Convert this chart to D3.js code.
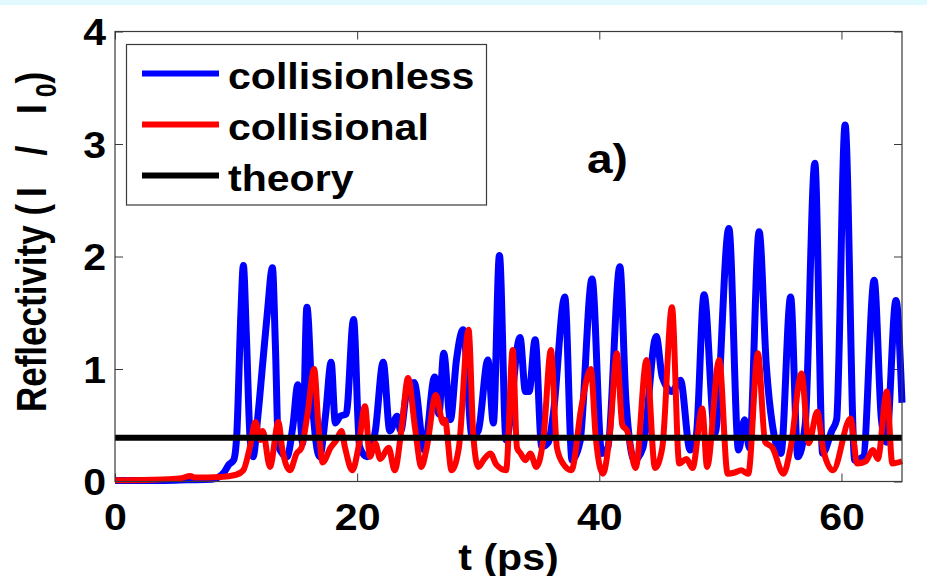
<!DOCTYPE html>
<html>
<head>
  <meta charset="utf-8">
  <title>Reflectivity vs time</title>
  <script src="https://d3js.org/d3.v7.min.js"></script>
  <style>
    body { margin: 0; background: #fff; }
    text { font-family: "Liberation Sans", Arial, Helvetica, sans-serif; font-weight: bold; fill: #000; }
  </style>
</head>
<body>
  <div id="chart"></div>

  <script>
    // data: [t (ps), I / I0]
    var collisionless = [
      [0,0.01],[4,0.01],[6,0.015],[8,0.02],[9,0.08],[9.4,0.15],[9.8,0.19],[10.05,0.4],[10.4,1.5],[10.6,1.92],
      [10.85,1.3],[11.15,0.4],[11.4,0.22],[11.8,0.58],[12.2,1.05],[12.6,1.52],[13.0,1.9],[13.25,1.2],[13.5,0.31],
      [14.2,0.22],[14.7,0.5],[15.1,0.86],[15.5,0.34],[15.85,1.55],[16.3,0.7],[16.9,0.22],[17.4,0.6],[17.85,1.06],
      [18.2,0.52],[18.6,0.58],[19.1,0.6],[19.7,1.44],[20.2,0.31],[20.8,0.22],[21.5,0.45],[22.15,1.06],[22.7,0.45],
      [23.3,0.58],[23.6,0.45],[24.1,0.8],[24.7,0.88],[25.55,0.28],[26.4,0.93],[26.75,0.6],[27.15,1.14],[27.7,0.55],
      [28.2,1.08],[28.75,1.35],[29.5,0.4],[30.0,0.45],[30.8,1.08],[31.25,0.52],[31.75,2.01],[32.3,0.37],[33.45,1.28],
      [33.9,0.8],[34.2,0.8],[34.7,1.26],[35.25,0.31],[35.8,0.35],[36.2,0.6],[37.15,1.64],[37.75,0.19],[38.4,0.35],
      [39.4,1.8],[40.2,0.25],[40.7,0.3],[41.7,1.91],[42.2,0.72],[42.9,0.19],[43.6,0.3],[44.7,1.29],[45.2,0.93],
      [46.0,0.8],[46.7,0.9],[47.5,0.28],[48.0,0.4],[48.65,1.66],[49.55,0.43],[50.7,2.25],[51.5,0.28],[52.0,0.55],
      [52.4,0.3],[53.2,2.22],[53.8,1.02],[54.3,0.5],[55.0,0.25],[55.8,1.64],[56.4,0.22],[57.0,0.5],[57.8,2.83],
      [58.45,0.25],[59.2,0.45],[59.6,0.55],[60.3,3.17],[61.1,0.19],[61.8,0.22],[62.7,1.79],[63.3,0.55],[63.7,0.35],
      [64.5,1.61],[65,0.7]
    ];

    var collisional = [
      [0,0.01],[3,0.015],[5.5,0.03],[6.2,0.05],[6.6,0.035],[8.7,0.04],[10.0,0.06],[10.6,0.1],[11.15,0.31],[11.6,0.53],
      [12.0,0.37],[12.2,0.45],[12.8,0.13],[13.5,0.53],[13.8,0.3],[14.45,0.1],[15.0,0.25],[15.4,0.3],[15.9,0.6],
      [16.45,1.0],[16.8,0.5],[17.15,0.17],[17.8,0.3],[18.3,0.37],[18.7,0.45],[19.0,0.3],[19.6,0.1],[20.1,0.3],
      [20.65,0.67],[21.05,0.22],[21.5,0.34],[21.9,0.2],[22.6,0.3],[23.1,0.1],[23.7,0.5],[24.2,0.92],[24.8,0.46],
      [25.3,0.13],[25.75,0.3],[26.5,0.77],[27.1,0.52],[27.25,0.55],[27.8,0.1],[28.4,0.3],[29.2,1.35],[29.6,0.4],
      [30.0,0.13],[30.5,0.2],[31.0,0.25],[31.5,0.15],[32.3,0.1],[32.85,1.17],[33.2,0.3],[33.5,0.25],[33.9,0.19],
      [34.3,0.25],[34.8,0.13],[35.4,0.4],[36.0,1.17],[36.5,0.3],[37.0,0.16],[37.7,0.1],[38.5,0.65],[39.3,1.0],
      [39.7,0.4],[40.3,0.07],[40.9,0.46],[41.45,1.14],[41.9,0.5],[42.3,0.45],[43.0,0.12],[43.9,1.08],[44.6,0.12],
      [45.2,0.3],[46.0,1.55],[46.6,0.16],[47.2,0.2],[47.7,0.12],[48.5,0.65],[48.9,0.13],[49.9,1.08],[50.6,0.07],
      [51.2,0.08],[51.7,0.1],[52.3,0.07],[53.1,1.14],[53.7,0.35],[54.3,0.3],[55.2,0.07],[55.8,0.3],[56.7,0.96],
      [57.3,0.34],[58.0,0.62],[58.5,0.28],[59.3,0.1],[60.75,0.56],[61.3,0.16],[62.0,0.18],[62.6,0.28],[63.0,0.2],
      [63.75,0.8],[64.2,0.16],[65,0.18]
    ];

    var theoryLevel = 0.39;

    var seriesNames = ["collisionless", "collisional", "theory"];
    var seriesColors = ["#0000ff", "#ff0000", "#000000"];
    var xTicks = [0, 20, 40, 60];
    var yTicks = [0, 1, 2, 3, 4];

    var W = 927, H = 576;
    var plotLeft = 115, plotRight = 902, plotTop = 31.5, plotBottom = 481.5;
    var sx = 1.11; // glyphs in the figure are a bit wider than tall

    var svg = d3.select("#chart").append("svg")
      .attr("width", W)
      .attr("height", H);

    // thin cyan strip along the top edge
    svg.append("rect").attr("x", 0).attr("y", 0).attr("width", W).attr("height", 5).attr("fill", "#e0f9fc");

    var x = d3.scaleLinear().domain([0, 65]).range([plotLeft, plotRight]);
    var y = d3.scaleLinear().domain([0, 4]).range([plotBottom, plotTop]);

    var axisColor = "#3a3a3a";

    function styleAxis(g) {
      g.select(".domain").remove();
      g.selectAll(".tick line").attr("stroke", axisColor).attr("stroke-width", 1);
    }

    svg.append("g")
      .attr("transform", "translate(0," + plotBottom + ")")
      .call(d3.axisBottom(x).tickValues(xTicks).tickSizeInner(-8).tickSizeOuter(0).tickPadding(22))
      .call(styleAxis)
      .selectAll("text")
      .attr("font-size", 37)
      .attr("transform", "scale(" + sx + ",1)");

    svg.append("g")
      .attr("transform", "translate(" + plotLeft + ",0)")
      .call(d3.axisLeft(y).tickValues(yTicks).tickFormat(d3.format("d")).tickSizeInner(-8).tickSizeOuter(0).tickPadding(8))
      .call(styleAxis)
      .selectAll("text")
      .attr("font-size", 37)
      .attr("dy", "0.36em")
      .attr("transform", "scale(" + sx + ",1)");

    svg.append("g")
      .attr("transform", "translate(0," + plotTop + ")")
      .call(d3.axisTop(x).tickValues(xTicks).tickFormat("").tickSizeInner(-8).tickSizeOuter(0))
      .call(styleAxis);

    svg.append("g")
      .attr("transform", "translate(" + plotRight + ",0)")
      .call(d3.axisRight(y).tickValues(yTicks).tickFormat("").tickSizeInner(-8).tickSizeOuter(0))
      .call(styleAxis);

    var line = d3.line()
      .x(function(d) { return x(d[0]); })
      .y(function(d) { return y(d[1]); })
      .curve(d3.curveMonotoneX);

    svg.append("path").datum(collisionless)
      .attr("d", line).attr("fill", "none")
      .attr("stroke", seriesColors[0]).attr("stroke-width", 7).attr("stroke-linejoin", "round");

    svg.append("path").datum(collisional)
      .attr("d", line).attr("fill", "none")
      .attr("stroke", seriesColors[1]).attr("stroke-width", 6).attr("stroke-linejoin", "round");

    svg.append("path").datum([[0, theoryLevel], [65, theoryLevel]])
      .attr("d", line).attr("fill", "none")
      .attr("stroke", seriesColors[2]).attr("stroke-width", 6);

    // axes frame
    svg.append("rect")
      .attr("x", plotLeft).attr("y", plotTop)
      .attr("width", plotRight - plotLeft).attr("height", plotBottom - plotTop)
      .attr("fill", "none").attr("stroke", axisColor).attr("stroke-width", 1.2);

    // legend
    var legend = svg.append("g");
    legend.append("rect")
      .attr("x", 126.5).attr("y", 44.5).attr("width", 360).attr("height", 160.5)
      .attr("fill", "#fff").attr("stroke", axisColor).attr("stroke-width", 1.2);

    seriesNames.forEach(function(name, i) {
      var ly = 73.5 + i * 51;
      legend.append("line")
        .attr("x1", 142).attr("x2", 219).attr("y1", ly).attr("y2", ly)
        .attr("stroke", seriesColors[i]).attr("stroke-width", 6);
      legend.append("text")
        .attr("transform", "translate(228," + (ly + 15) + ") scale(" + sx + ",1)")
        .attr("font-size", 37)
        .text(name);
    });

    // panel tag
    svg.append("text")
      .attr("transform", "translate(587,173) scale(1.15,1)")
      .attr("font-size", 40)
      .text("a)");

    // axis titles
    svg.append("text")
      .attr("transform", "translate(" + ((plotLeft + plotRight) / 2) + ",570) scale(" + sx + ",1)")
      .attr("text-anchor", "middle")
      .attr("font-size", 37)
      .text("t (ps)");

    var ylab = svg.append("text")
      .attr("transform", "translate(46,412) scale(1.2,1) rotate(-90)")
      .attr("text-anchor", "start")
      .attr("font-size", 35);
    ylab.append("tspan").text("Reflectivity ");
    ylab.append("tspan").attr("letter-spacing", 7).attr("word-spacing", 8).text("(I / I");
    ylab.append("tspan").attr("font-size", 25).attr("dy", 8).text("0");
    ylab.append("tspan").attr("dy", -8).text(")");
  </script>
</body>
</html>
